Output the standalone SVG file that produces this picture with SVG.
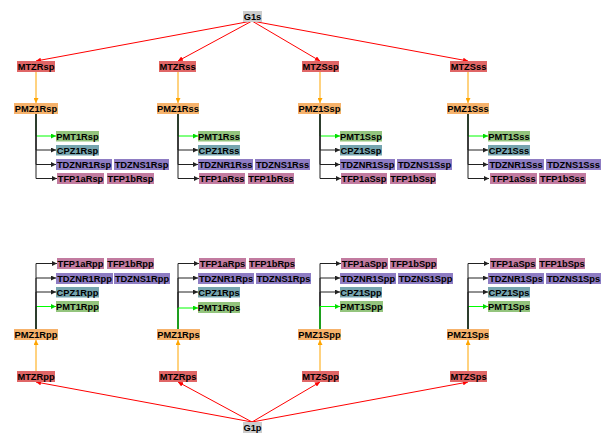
<svg xmlns="http://www.w3.org/2000/svg" width="614" height="439" viewBox="0 0 614 439">
<style>
text{font-family:"Liberation Sans",Arial,sans-serif;font-size:9.3px;font-weight:bold;fill:#000;text-anchor:middle}
.g{fill:#cccccc}.m{fill:#e06666}.o{fill:#f6b26b}.pm{fill:#93c47d}.c{fill:#76a5af}.t{fill:#8e7cc3}.f{fill:#c27ba0}
.er{stroke:#ff0000;fill:none;stroke-width:1;marker-end:url(#ar)}
.eo{stroke:#ffa500;fill:none;stroke-width:1;marker-end:url(#ao)}
.eg{stroke:#00ff00;fill:none;stroke-width:1;marker-end:url(#ag)}
.ek{stroke:#222;fill:none;stroke-width:1;marker-end:url(#ak)}
</style>
<defs>
<marker id="ar" viewBox="0 0 6 6" refX="6" refY="3" markerWidth="5" markerHeight="5" orient="auto" markerUnits="userSpaceOnUse"><path d="M0,0L6,3L0,6z" fill="#ff0000"/></marker>
<marker id="ao" viewBox="0 0 6 6" refX="6" refY="3" markerWidth="5" markerHeight="5" orient="auto" markerUnits="userSpaceOnUse"><path d="M0,0L6,3L0,6z" fill="#ffa500"/></marker>
<marker id="ag" viewBox="0 0 6 6" refX="6" refY="3" markerWidth="5" markerHeight="5" orient="auto" markerUnits="userSpaceOnUse"><path d="M0,0L6,3L0,6z" fill="#00dd00"/></marker>
<marker id="ak" viewBox="0 0 6 6" refX="6" refY="3" markerWidth="5" markerHeight="5" orient="auto" markerUnits="userSpaceOnUse"><path d="M0,0L6,3L0,6z" fill="#222"/></marker>
</defs>
<g id="connectors">
<path class="er" d="M252,21L36,61"/><path class="er" d="M252,21L178,61"/><path class="er" d="M252,21L320,61"/><path class="er" d="M252,21L468,61"/>
<path class="eo" d="M36,72V103"/><path class="eo" d="M178,72V103"/><path class="eo" d="M320,72V103"/><path class="eo" d="M468,72V103"/>
<path class="eg" d="M36,114V136H56"/><path class="ek" d="M36,114V150H56"/><path class="ek" d="M36,114V164.5H56"/><path class="ek" d="M36,114V178.5H57"/>
<path class="eg" d="M178,114V136H198"/><path class="ek" d="M178,114V150H198"/><path class="ek" d="M178,114V164.5H198"/><path class="ek" d="M178,114V178.5H199"/>
<path class="eg" d="M320,114V136H340"/><path class="ek" d="M320,114V150H340"/><path class="ek" d="M320,114V164.5H340"/><path class="ek" d="M320,114V178.5H341"/>
<path class="eg" d="M468,114V136H488"/><path class="ek" d="M468,114V150H488"/><path class="ek" d="M468,114V164.5H488"/><path class="ek" d="M468,114V178.5H489"/>
<path class="er" d="M252,422L36,382"/><path class="er" d="M252,422L178,382"/><path class="er" d="M252,422L320,382"/><path class="er" d="M252,422L468,382"/>
<path class="eo" d="M36,371V340"/><path class="eo" d="M178,371V340"/><path class="eo" d="M320,371V340"/><path class="eo" d="M468,371V340"/>
<path class="eg" d="M36,329V306.5H56"/><path class="ek" d="M36,329V292H56"/><path class="ek" d="M36,329V278H56"/><path class="ek" d="M36,329V263.5H57"/>
<path class="ek" d="M178,329V292H198"/><path class="ek" d="M178,329V278H198"/><path class="ek" d="M178,329V263.5H199"/><path class="eg" d="M178,329V308H198"/>
<path class="ek" d="M320,329V292H340"/><path class="ek" d="M320,329V278H340"/><path class="ek" d="M320,329V263.5H341"/><path class="eg" d="M320,329V306.5H340"/>
<path class="eg" d="M468,329V306.5H488"/><path class="ek" d="M468,329V292H488"/><path class="ek" d="M468,329V278H488"/><path class="ek" d="M468,329V263.5H489"/>
</g>
<g id="G1s"><rect class="g" x="243" y="11" width="19" height="11"/><text x="252.5" y="19.8">G1s</text></g>
<g id="G1p"><rect class="g" x="243" y="422" width="19" height="11"/><text x="252.5" y="430.8">G1p</text></g>

<g id="MTZRsp"><rect class="m" x="17" y="61" width="38" height="11"/><text x="36" y="69.8">MTZRsp</text></g>
<g id="MTZRss"><rect class="m" x="159" y="61" width="37" height="11"/><text x="177.5" y="69.8">MTZRss</text></g>
<g id="MTZSsp"><rect class="m" x="302" y="61" width="37" height="11"/><text x="320.5" y="69.8">MTZSsp</text></g>
<g id="MTZSss"><rect class="m" x="450" y="61" width="37" height="11"/><text x="468.5" y="69.8">MTZSss</text></g>
<g id="PMZ1Rsp"><rect class="o" x="14" y="103" width="44" height="11"/><text x="36" y="111.8">PMZ1Rsp</text></g>
<g id="PMZ1Rss"><rect class="o" x="157" y="103" width="42" height="11"/><text x="178" y="111.8">PMZ1Rss</text></g>
<g id="PMZ1Ssp"><rect class="o" x="298" y="103" width="43" height="11"/><text x="319.5" y="111.8">PMZ1Ssp</text></g>
<g id="PMZ1Sss"><rect class="o" x="447" y="103" width="42" height="11"/><text x="468" y="111.8">PMZ1Sss</text></g>

<g id="PMT1Rsp"><rect class="pm" x="56" y="131" width="43" height="10.5"/><text x="77.5" y="139.6">PMT1Rsp</text></g>
<g id="CPZ1Rsp"><rect class="c" x="56" y="145" width="43" height="10.5"/><text x="77.5" y="153.6">CPZ1Rsp</text></g>
<g id="TDZNR1Rsp"><rect class="t" x="56" y="159" width="56" height="11"/><text x="84" y="167.8">TDZNR1Rsp</text></g>
<g id="TDZNS1Rsp"><rect class="t" x="114" y="159" width="55" height="11"/><text x="141.5" y="167.8">TDZNS1Rsp</text></g>
<g id="TFP1aRsp"><rect class="f" x="57" y="173" width="47" height="11"/><text x="80.5" y="181.8">TFP1aRsp</text></g>
<g id="TFP1bRsp"><rect class="f" x="107" y="173" width="47" height="11"/><text x="130.5" y="181.8">TFP1bRsp</text></g>

<g id="PMT1Rss"><rect class="pm" x="198" y="131" width="42" height="10.5"/><text x="219" y="139.6">PMT1Rss</text></g>
<g id="CPZ1Rss"><rect class="c" x="198" y="145" width="42" height="10.5"/><text x="219" y="153.6">CPZ1Rss</text></g>
<g id="TDZNR1Rss"><rect class="t" x="198" y="159" width="55" height="11"/><text x="225.5" y="167.8">TDZNR1Rss</text></g>
<g id="TDZNS1Rss"><rect class="t" x="255" y="159" width="55" height="11"/><text x="282.5" y="167.8">TDZNS1Rss</text></g>
<g id="TFP1aRss"><rect class="f" x="199" y="173" width="46" height="11"/><text x="222" y="181.8">TFP1aRss</text></g>
<g id="TFP1bRss"><rect class="f" x="248" y="173" width="46" height="11"/><text x="271" y="181.8">TFP1bRss</text></g>

<g id="PMT1Ssp"><rect class="pm" x="340" y="131" width="42" height="10.5"/><text x="361" y="139.6">PMT1Ssp</text></g>
<g id="CPZ1Ssp"><rect class="c" x="340" y="145" width="42" height="10.5"/><text x="361" y="153.6">CPZ1Ssp</text></g>
<g id="TDZNR1Ssp"><rect class="t" x="340" y="159" width="55" height="11"/><text x="367.5" y="167.8">TDZNR1Ssp</text></g>
<g id="TDZNS1Ssp"><rect class="t" x="397" y="159" width="55" height="11"/><text x="424.5" y="167.8">TDZNS1Ssp</text></g>
<g id="TFP1aSsp"><rect class="f" x="341" y="173" width="46" height="11"/><text x="364" y="181.8">TFP1aSsp</text></g>
<g id="TFP1bSsp"><rect class="f" x="390" y="173" width="46" height="11"/><text x="413" y="181.8">TFP1bSsp</text></g>

<g id="PMT1Sss"><rect class="pm" x="488" y="131" width="42" height="10.5"/><text x="509" y="139.6">PMT1Sss</text></g>
<g id="CPZ1Sss"><rect class="c" x="488" y="145" width="42" height="10.5"/><text x="509" y="153.6">CPZ1Sss</text></g>
<g id="TDZNR1Sss"><rect class="t" x="488" y="159" width="56" height="11"/><text x="516" y="167.8">TDZNR1Sss</text></g>
<g id="TDZNS1Sss"><rect class="t" x="546" y="159" width="55" height="11"/><text x="573.5" y="167.8">TDZNS1Sss</text></g>
<g id="TFP1aSss"><rect class="f" x="490" y="173" width="47" height="11"/><text x="513.5" y="181.8">TFP1aSss</text></g>
<g id="TFP1bSss"><rect class="f" x="539" y="173" width="47" height="11"/><text x="562.5" y="181.8">TFP1bSss</text></g>

<g id="MTZRpp"><rect class="m" x="17" y="371" width="38" height="11"/><text x="36" y="379.8">MTZRpp</text></g>
<g id="MTZRps"><rect class="m" x="159" y="371" width="38" height="11"/><text x="178" y="379.8">MTZRps</text></g>
<g id="MTZSpp"><rect class="m" x="302" y="371" width="37" height="11"/><text x="320.5" y="379.8">MTZSpp</text></g>
<g id="MTZSps"><rect class="m" x="450" y="371" width="37" height="11"/><text x="468.5" y="379.8">MTZSps</text></g>
<g id="PMZ1Rpp"><rect class="o" x="14" y="329" width="44" height="11"/><text x="36" y="337.8">PMZ1Rpp</text></g>
<g id="PMZ1Rps"><rect class="o" x="157" y="329" width="43" height="11"/><text x="178.5" y="337.8">PMZ1Rps</text></g>
<g id="PMZ1Spp"><rect class="o" x="298" y="329" width="43" height="11"/><text x="319.5" y="337.8">PMZ1Spp</text></g>
<g id="PMZ1Sps"><rect class="o" x="447" y="329" width="42" height="11"/><text x="468" y="337.8">PMZ1Sps</text></g>

<g id="TFP1aRpp"><rect class="f" x="57" y="258" width="47" height="11"/><text x="80.5" y="266.8">TFP1aRpp</text></g>
<g id="TFP1bRpp"><rect class="f" x="107" y="258" width="47" height="11"/><text x="130.5" y="266.8">TFP1bRpp</text></g>
<g id="TDZNR1Rpp"><rect class="t" x="56" y="273" width="57" height="11"/><text x="84.5" y="281.8">TDZNR1Rpp</text></g>
<g id="TDZNS1Rpp"><rect class="t" x="114" y="273" width="56" height="11"/><text x="142" y="281.8">TDZNS1Rpp</text></g>
<g id="CPZ1Rpp"><rect class="c" x="56" y="287" width="43" height="10.5"/><text x="77.5" y="295.6">CPZ1Rpp</text></g>
<g id="PMT1Rpp"><rect class="pm" x="56" y="301" width="43" height="11"/><text x="77.5" y="309.8">PMT1Rpp</text></g>

<g id="TFP1aRps"><rect class="f" x="199" y="258" width="47" height="11"/><text x="222.5" y="266.8">TFP1aRps</text></g>
<g id="TFP1bRps"><rect class="f" x="249" y="258" width="46" height="11"/><text x="272" y="266.8">TFP1bRps</text></g>
<g id="TDZNR1Rps"><rect class="t" x="198" y="273" width="56" height="11"/><text x="226" y="281.8">TDZNR1Rps</text></g>
<g id="TDZNS1Rps"><rect class="t" x="256" y="273" width="55" height="11"/><text x="283.5" y="281.8">TDZNS1Rps</text></g>
<g id="CPZ1Rps"><rect class="c" x="198" y="287" width="42" height="10.5"/><text x="219" y="295.6">CPZ1Rps</text></g>
<g id="PMT1Rps"><rect class="pm" x="198" y="302" width="42" height="11"/><text x="219" y="310.8">PMT1Rps</text></g>

<g id="TFP1aSpp"><rect class="f" x="341" y="258" width="47" height="11"/><text x="364.5" y="266.8">TFP1aSpp</text></g>
<g id="TFP1bSpp"><rect class="f" x="390" y="258" width="47" height="11"/><text x="413.5" y="266.8">TFP1bSpp</text></g>
<g id="TDZNR1Spp"><rect class="t" x="340" y="273" width="56" height="11"/><text x="368" y="281.8">TDZNR1Spp</text></g>
<g id="TDZNS1Spp"><rect class="t" x="398" y="273" width="55" height="11"/><text x="425.5" y="281.8">TDZNS1Spp</text></g>
<g id="CPZ1Spp"><rect class="c" x="340" y="287" width="42" height="10.5"/><text x="361" y="295.6">CPZ1Spp</text></g>
<g id="PMT1Spp"><rect class="pm" x="340" y="301" width="43" height="11"/><text x="361.5" y="309.8">PMT1Spp</text></g>

<g id="TFP1aSps"><rect class="f" x="490" y="258" width="46" height="11"/><text x="513" y="266.8">TFP1aSps</text></g>
<g id="TFP1bSps"><rect class="f" x="539" y="258" width="46" height="11"/><text x="562" y="266.8">TFP1bSps</text></g>
<g id="TDZNR1Sps"><rect class="t" x="488" y="273" width="56" height="11"/><text x="516" y="281.8">TDZNR1Sps</text></g>
<g id="TDZNS1Sps"><rect class="t" x="546" y="273" width="55" height="11"/><text x="573.5" y="281.8">TDZNS1Sps</text></g>
<g id="CPZ1Sps"><rect class="c" x="488" y="287" width="42" height="10.5"/><text x="509" y="295.6">CPZ1Sps</text></g>
<g id="PMT1Sps"><rect class="pm" x="488" y="301" width="42" height="11"/><text x="509" y="309.8">PMT1Sps</text></g>
</svg>
